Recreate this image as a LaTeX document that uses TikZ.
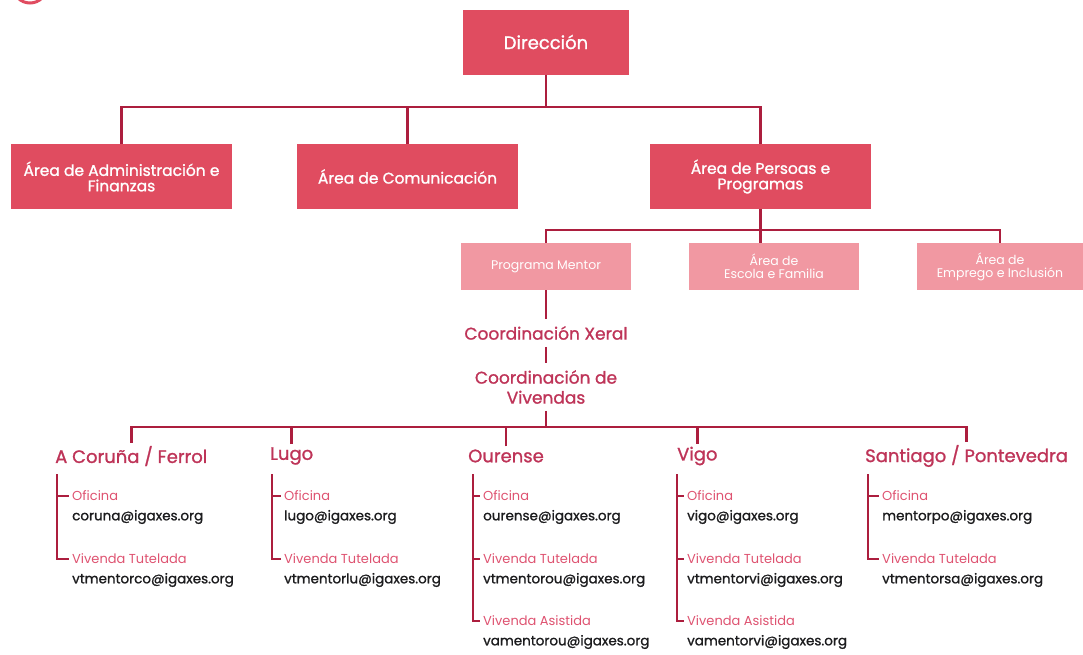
\documentclass[tikz,border=0pt]{standalone}
\usepackage{fontspec}
\setmainfont{Poppins}
\newfontfamily\medfont{Poppins}[FakeBold=1.2]
\usetikzlibrary{positioning}

\definecolor{boxred}{RGB}{224,76,96}
\definecolor{boxpink}{RGB}{241,152,162}
\definecolor{linkred}{RGB}{172,30,62}
\definecolor{textred}{RGB}{190,52,88}
\definecolor{labelred}{RGB}{222,82,112}
\definecolor{mailgray}{RGB}{28,28,30}

\tikzset{
  mainbox/.style={fill=boxred, text=white, minimum width=221pt, minimum height=65pt, inner sep=2pt, align=center, font=\medfont\fontsize{15.5}{15.5}\selectfont},
  subbox/.style={fill=boxpink, text=white, minimum width=170pt, minimum height=47pt, inner sep=2pt, align=center, font=\fontsize{12.5}{13}\selectfont},
  coordtext/.style={text=textred, align=center, inner sep=7pt, font=\medfont\fontsize{17}{20}\selectfont},
  city/.style={text=textred, anchor=west, inner sep=3pt, font=\medfont\fontsize{18}{19}\selectfont},
  itemlabel/.style={text=labelred, anchor=west, inner sep=3pt, font=\fontsize{13}{14}\selectfont},
  mail/.style={text=mailgray, anchor=west, inner sep=3pt, font=\medfont\fontsize{13.5}{14}\selectfont},
  link/.style={draw=linkred, line width=2.6pt},
  bracket/.style={draw=linkred, line width=1.8pt}
}

\begin{document}
\begin{tikzpicture}[x=1pt,y=-1pt]
\useasboundingbox (0,0) rectangle (1083,654);

%Shape: cut ring at the corner
\draw [boxred, line width=3pt] (30,-14) circle (17pt);

% top boxes
\node [mainbox, minimum width=166pt] (dir) at (546,42) {\fontsize{18}{20}\selectfont Dirección};
\node [mainbox] (admin) at (121.5,176.5) {Área de Administración e\\Finanzas};
\node [mainbox] (comm) at (407.5,176.5) {Área de Comunicación};
\node [mainbox] (pers) at (760.5,176.5) {Área de Persoas e\\Programas};

% light boxes
\node [subbox] (mentor) at (546,266.5) {Programa Mentor};
\node [subbox] (escola) at (774,266.5) {Área de\\Escola e Familia};
\node [subbox, minimum width=166pt] (emprego) at (1000,266.5) {Área de\\Emprego e Inclusión};

% Text Node
\node [coordtext] (xeral) at (546,333) {Coordinación Xeral};
\node [coordtext] (vivendas) at (546,387) {Coordinación de\\Vivendas};

% city names
\node [city] (cor) at (52,456) {A Coruña / Ferrol};
\node [city] (lug) at (267,456) {Lugo};
\node [city] (our) at (465,456) {Ourense};
\node [city] (vig) at (674,456) {Vigo};
\node [city] (san) at (862,456) {Santiago / Pontevedra};

% bus points
\coordinate (busA) at (546,107);
\coordinate (busB) at (760.5,230);
\coordinate (busC) at (546,427);

\draw [link] (dir) -- (busA);
\draw [link] (admin.north) |- (busA) -| (pers.north);
\draw [link] (comm.north) -- (comm.north |- busA);

\draw [link] (pers.south) -- (pers.south |- escola.north);
\draw [link] (mentor.north) |- (busB) -| (emprego.north);

\draw [link] (mentor.south) -- (xeral.north);
\draw [link] (xeral.south) -- (vivendas.north);
\draw [link] (vivendas.south) -- (busC);

\draw [link] (cor.north) |- (busC) -| (san.north);
\draw [link] (lug.north) -- (lug.north |- busC);
\draw [link] (our.north) -- (our.north |- busC);
\draw [link] (vig.north) -- (vig.north |- busC);

% A Coruña / Ferrol
\node [itemlabel] (cor-o) at (69,496) {Oficina};
\node [mail] (cor-om) at (69,517) {coruna@igaxes.org};
\node [itemlabel] (cor-t) at (69,559) {Vivenda Tutelada};
\node [mail] (cor-tm) at (69,580) {vtmentorco@igaxes.org};
\coordinate (cor-b) at (57,474);
\draw [bracket] (cor-b) |- (cor-t.west);
\draw [bracket] (cor-b |- cor-o.west) -- (cor-o.west);

% Lugo
\node [itemlabel] (lug-o) at (281,496) {Oficina};
\node [mail] (lug-om) at (281,517) {lugo@igaxes.org};
\node [itemlabel] (lug-t) at (281,559) {Vivenda Tutelada};
\node [mail] (lug-tm) at (281,580) {vtmentorlu@igaxes.org};
\coordinate (lug-b) at (272,474);
\draw [bracket] (lug-b) |- (lug-t.west);
\draw [bracket] (lug-b |- lug-o.west) -- (lug-o.west);

% Ourense
\node [itemlabel] (our-o) at (480,496) {Oficina};
\node [mail] (our-om) at (480,517) {ourense@igaxes.org};
\node [itemlabel] (our-t) at (480,559) {Vivenda Tutelada};
\node [mail] (our-tm) at (480,580) {vtmentorou@igaxes.org};
\node [itemlabel] (our-a) at (480,621) {Vivenda Asistida};
\node [mail] (our-am) at (480,642) {vamentorou@igaxes.org};
\coordinate (our-b) at (473,474);
\draw [bracket] (our-b) |- (our-a.west);
\draw [bracket] (our-b |- our-o.west) -- (our-o.west);
\draw [bracket] (our-b |- our-t.west) -- (our-t.west);

% Vigo
\node [itemlabel] (vig-o) at (684,496) {Oficina};
\node [mail] (vig-om) at (684,517) {vigo@igaxes.org};
\node [itemlabel] (vig-t) at (684,559) {Vivenda Tutelada};
\node [mail] (vig-tm) at (684,580) {vtmentorvi@igaxes.org};
\node [itemlabel] (vig-a) at (684,621) {Vivenda Asistida};
\node [mail] (vig-am) at (684,642) {vamentorvi@igaxes.org};
\coordinate (vig-b) at (677,474);
\draw [bracket] (vig-b) |- (vig-a.west);
\draw [bracket] (vig-b |- vig-o.west) -- (vig-o.west);
\draw [bracket] (vig-b |- vig-t.west) -- (vig-t.west);

% Santiago / Pontevedra
\node [itemlabel] (san-o) at (879,496) {Oficina};
\node [mail] (san-om) at (879,517) {mentorpo@igaxes.org};
\node [itemlabel] (san-t) at (879,559) {Vivenda Tutelada};
\node [mail] (san-tm) at (879,580) {vtmentorsa@igaxes.org};
\coordinate (san-b) at (868,474);
\draw [bracket] (san-b) |- (san-t.west);
\draw [bracket] (san-b |- san-o.west) -- (san-o.west);

\end{tikzpicture}
\end{document}
